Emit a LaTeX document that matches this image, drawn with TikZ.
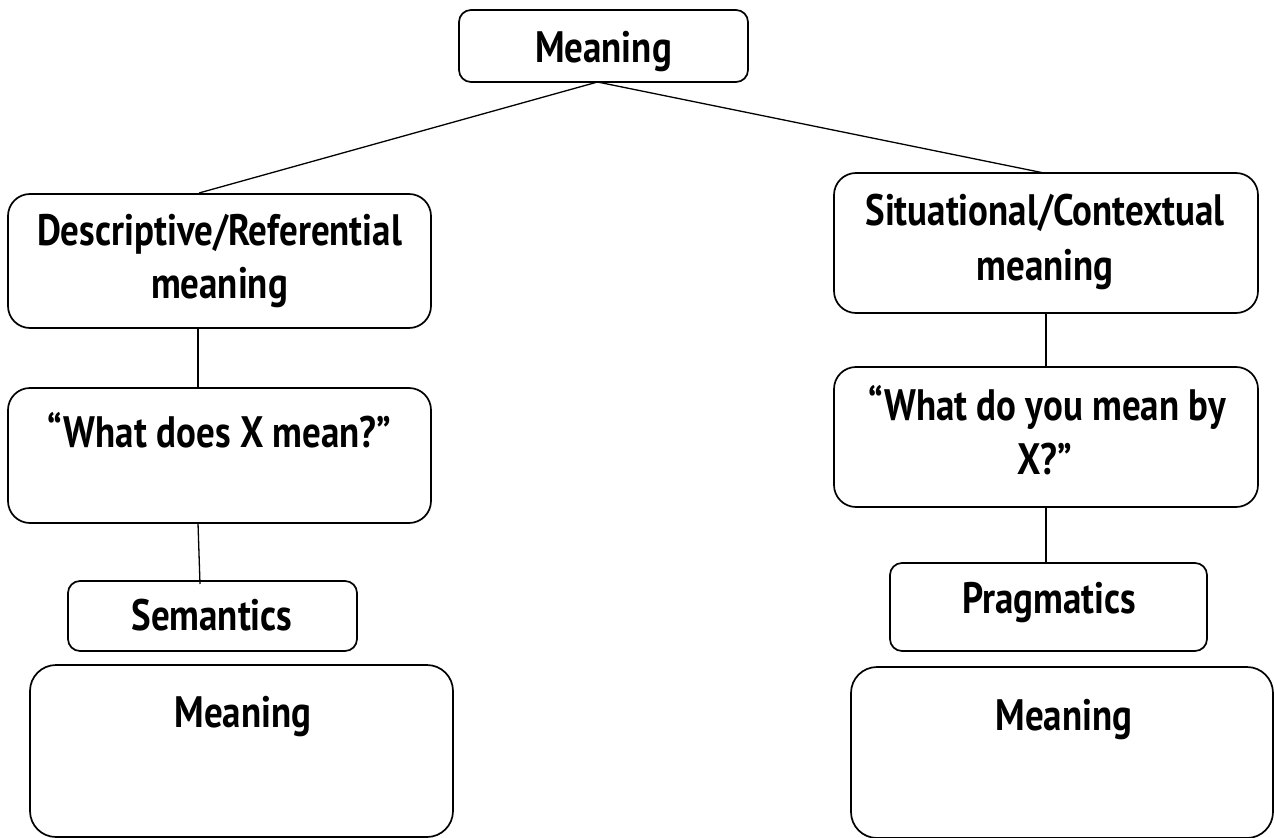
\documentclass[tikz,border=0pt]{standalone}
\usepackage{fontspec}
\newfontfamily\lblfont{PT Sans}[FakeStretch=0.84]
\usetikzlibrary{calc}
\tikzset{
  box/.style={draw=black, line width=1.7bp, rectangle, inner sep=0pt, outer sep=0pt},
  bigbox/.style={box, rounded corners=22bp},
  smallbox/.style={box, rounded corners=12bp},
  lbl/.style={anchor=base, inner sep=0pt, outer sep=0pt, font=\lblfont\bfseries\fontsize{44bp}{52bp}\selectfont},
  link/.style={draw=black, line width=1.3bp}
}
\begin{document}
\begin{tikzpicture}[x=1bp, y=-1bp]
\useasboundingbox (0,0) rectangle (1274,838);
% boxes
\node[smallbox, minimum width=289bp, minimum height=72bp] (top) at (603.5,46) {};
\node[bigbox, minimum width=423bp, minimum height=134bp] (desc) at (219.5,261) {};
\node[bigbox, minimum width=424bp, minimum height=140bp] (sit) at (1046,243) {};
\node[bigbox, minimum width=423bp, minimum height=135bp] (whatdoes) at (219.5,455.5) {};
\node[bigbox, minimum width=424bp, minimum height=140bp] (whatdo) at (1046,437) {};
\node[smallbox, minimum width=289bp, minimum height=70bp] (sem) at (212.5,616) {};
\node[smallbox, minimum width=317bp, minimum height=88bp] (prag) at (1048.5,607) {};
\node[bigbox, rounded corners=26bp, minimum width=423bp, minimum height=172bp] (botL) at (241.5,751) {};
\node[bigbox, rounded corners=26bp, minimum width=422bp, minimum height=171bp] (botR) at (1062,752.5) {};
% labels
\node[lbl] (topT) at (603.5,62) {Meaning};
\node[lbl] (descT1) at (219.5,245) {Descriptive/Referential};
\node[lbl] (descT2) at (219.5,298) {meaning};
\node[lbl] (sitT1) at (1045,225) {Situational/Contextual};
\node[lbl] (sitT2) at (1045,280) {meaning};
\node[lbl] (whatdoesT) at (219.5,447) {“What does X mean?”};
\node[lbl] (whatdoT1) at (1047,420) {“What do you mean by};
\node[lbl] (whatdoT2) at (1045,474) {X?”};
\node[lbl] (semT) at (212,630) {Semantics};
\node[lbl] (pragT) at (1049,613) {Pragmatics};
\node[lbl] (botLT) at (243,727) {Meaning};
\node[lbl] (botRT) at (1064,730) {Meaning};
% connectors
\draw[link] ($(top.south)+(-6,0)$) -- ($(desc.north)+(-20.5,-1)$);
\draw[link] ($(top.south)+(-6,0)$) -- ($(sit.north)+(-2,0)$);
\draw[link] ($(desc.south)+(-21.5,0)$) -- ($(whatdoes.north)+(-21.5,0)$);
\draw[link] ($(whatdoes.south)+(-21.5,0)$) -- ($(sem.north)+(-12.5,3)$);
\draw[link] (sit.south) -- (whatdo.north);
\draw[link] (whatdo.south) -- ($(prag.north)+(-2.5,0)$);
\end{tikzpicture}
\end{document}
